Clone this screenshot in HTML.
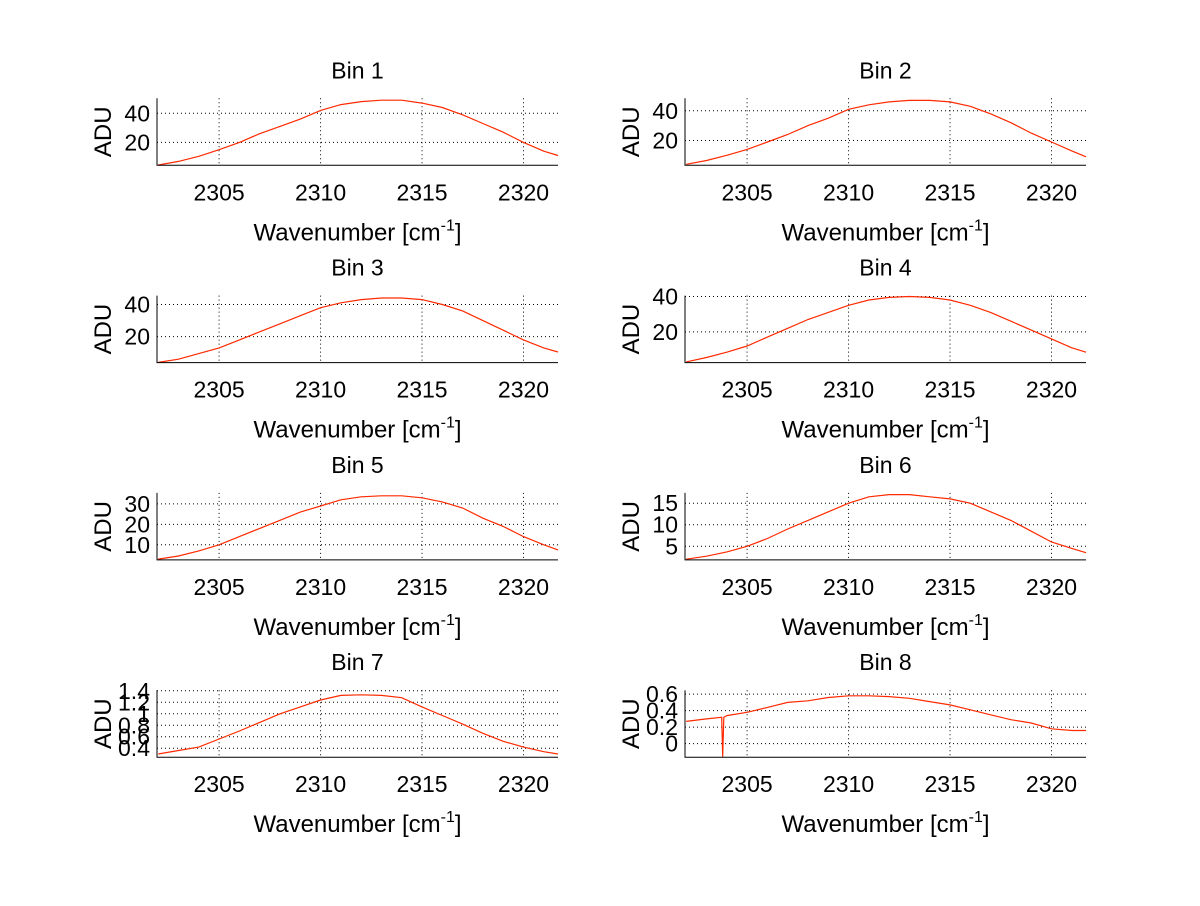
<!DOCTYPE html>
<html><head><meta charset="utf-8"><style>
html,body{margin:0;padding:0;background:#fff;}
svg text{font-family:"Liberation Sans",Arial,sans-serif;fill:#000;}
</style></head><body>
<svg id="fig" width="1200" height="901" viewBox="0 0 1200 901" xmlns="http://www.w3.org/2000/svg"></svg>
<script>
const xs = [2302,2303,2304,2305,2306,2307,2308,2309,2310,2311,2312,2313,2314,2315,2316,2317,2318,2319,2320,2321,2321.7];
const bin1 = [4.5,7,10.5,15,20,26,31,36,42,46,48,49,49,47,44,39,33,27,20,14,11];
const bin2 = [4,6.5,10,14,19,24,30,35,41,44,46,47,47,46,43,38,32,25,19,13,9];
const bin3 = [4,6,9.5,13,18,23,28,33,38,41,43,44,44,43,40,36,30,24,18,13,10.5];
const bin4 = [3,5.5,8.5,12,17,22,27,31,35,38,39.5,40,39.5,38,35,31,26,21,16,11,8.5];
const bin5 = [3,4.5,7,10,14,18,22,26,29,32,33.5,34,34,33,31,28,23,19,14,10,7.5];
const bin6 = [2,2.7,3.7,5,6.8,9,11,13,15,16.5,17,17,16.5,16,15,13,11,8.5,6,4.5,3.5];
const bin7 = [0.3,0.36,0.42,0.56,0.7,0.85,1.0,1.12,1.24,1.32,1.33,1.32,1.28,1.12,0.97,0.82,0.66,0.52,0.42,0.34,0.3];
const xs8 = [2302,2303,2303.75,2303.8,2303.85,2304,2305,2306,2307,2308,2309,2310,2311,2312,2313,2314,2315,2316,2317,2318,2319,2320,2321,2321.7];
const bin8 = [0.27,0.30,0.32,-0.16,0.32,0.34,0.38,0.44,0.5,0.52,0.56,0.58,0.58,0.57,0.55,0.51,0.47,0.41,0.35,0.29,0.25,0.18,0.16,0.16];
const xTicks = [2305,2310,2315,2320];
const yTicks1 = [20,40], yTicks2 = [20,40], yTicks3 = [20,40], yTicks4 = [20,40];
const yTicks5 = [10,20,30], yTicks6 = [5,10,15];
const yTicks7 = [0.4,0.6,0.8,1,1.2,1.4], yTicks8 = [0,0.2,0.4,0.6];
const yLims = [[4.3,50.3],[3.3,48.4],[3.9,45.5],[2.6,40.5],[2.6,35.4],[1.83,17.4],[0.244,1.41],[-0.164,0.648]];

const svg = document.getElementById('fig');
const NS = 'http://www.w3.org/2000/svg';
function mk(tag, attrs, parent){const e=document.createElementNS(NS,tag);for(const k in attrs)e.setAttribute(k,attrs[k]);(parent||svg).appendChild(e);return e;}
const XMIN=2301.94, XMAX=2321.7;
const panels = [
 {t:'Bin 1',x:xs,y:bin1,yt:yTicks1},{t:'Bin 2',x:xs,y:bin2,yt:yTicks2},
 {t:'Bin 3',x:xs,y:bin3,yt:yTicks3},{t:'Bin 4',x:xs,y:bin4,yt:yTicks4},
 {t:'Bin 5',x:xs,y:bin5,yt:yTicks5},{t:'Bin 6',x:xs,y:bin6,yt:yTicks6},
 {t:'Bin 7',x:xs,y:bin7,yt:yTicks7},{t:'Bin 8',x:xs8,y:bin8,yt:yTicks8}];
panels.forEach((p,i)=>{
  const col=i%2,row=Math.floor(i/2);
  const L=col?685:157, R=col?1086:558, T=98.3+row*197.3, B=T+67;
  const [y0,y1]=yLims[i];
  const sx=v=>L+(v-XMIN)/(XMAX-XMIN)*(R-L);
  const sy=v=>B-(v-y0)/(y1-y0)*(B-T);
  const g=mk('g',{});
  
  
  xTicks.forEach(v=>{
    const l=mk('line',{x1:sx(v),x2:sx(v),y1:T,y2:B,stroke:'#000','stroke-width':1,'stroke-dasharray':'1,3'},g);
    
    
    const t=mk('text',{x:sx(v),y:B+35,'font-size':23,'text-anchor':'middle'},g);
    
    
    t.textContent=v;
  });
  p.yt.forEach(v=>{
    const l=mk('line',{x1:L,x2:R,y1:sy(v),y2:sy(v),stroke:'#000','stroke-width':1,'stroke-dasharray':'1,3'},g);
    
    
    const t=mk('text',{x:L-7,y:sy(v)+8,'font-size':23,'text-anchor':'end'},g);
    
    
    t.textContent=v;
  });
  const d=p.x.map((v,k)=>(k?'L':'M')+sx(v).toFixed(1)+','+sy(p.y[k]).toFixed(1)).join('');
  const ln=mk('path',{d:d,fill:'none',stroke:'#ff2a00','stroke-width':1.2},g);
  
  
  const ax=mk('path',{d:`M${L},${T}L${L},${B}L${R},${B}`,fill:'none',stroke:'#000','stroke-width':1},g);
  
  
  const ti=mk('text',{x:(L+R)/2,y:T-20,'font-size':23,'text-anchor':'middle'},g);
  
  
  ti.textContent=p.t;
  const yl=mk('text',{x:0,y:0,'font-size':24,'text-anchor':'middle',transform:`translate(${L-46},${(T+B)/2}) rotate(-90)`},g);
  
  
  yl.textContent='ADU';
  const xl=mk('text',{x:(L+R)/2,y:B+75,'font-size':24,'text-anchor':'middle'},g);
  
  
  xl.appendChild(document.createTextNode('Wavenumber [cm'));
  const sup=mk('tspan',{dy:-10,'font-size':16},xl);
  sup.textContent='-1';
  const cl=mk('tspan',{dy:10},xl);
  cl.textContent=']';
});
</script>
</body></html>
